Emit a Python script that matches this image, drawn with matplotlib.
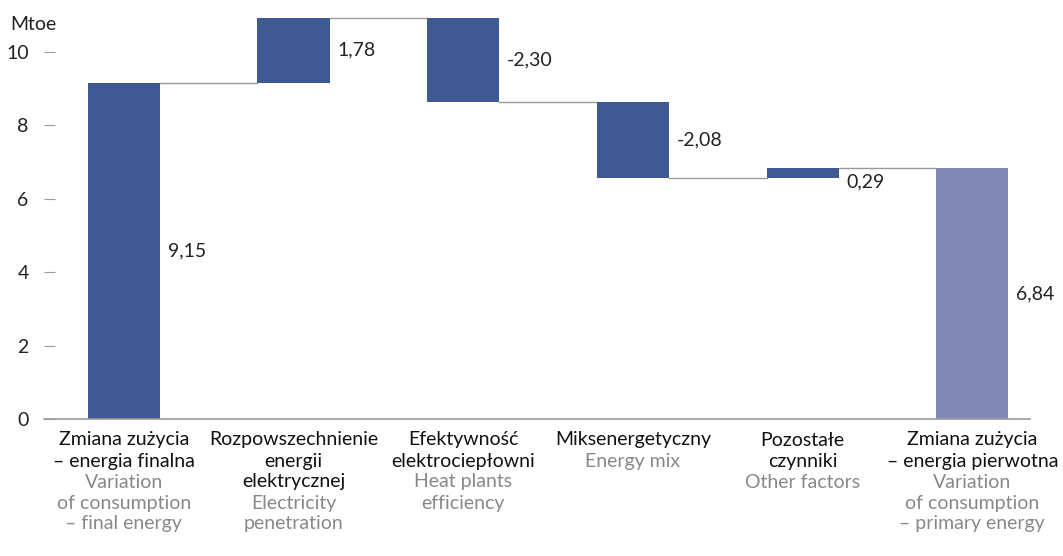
import matplotlib
matplotlib.use('Agg')
import matplotlib.pyplot as plt
import numpy as np

plt.rcParams['font.family'] = ['Lato', 'DejaVu Sans']

# data
labels_pl = [
    ['Zmiana zużycia', '– energia finalna'],
    ['Rozpowszechnienie', 'energii', 'elektrycznej'],
    ['Efektywność', 'elektrociepłowni'],
    ['Miksenergetyczny'],
    ['Pozostałe', 'czynniki'],
    ['Zmiana zużycia', '– energia pierwotna'],
]
labels_en = [
    ['Variation', 'of consumption', '– final energy'],
    ['Electricity', 'penetration'],
    ['Heat plants', 'efficiency'],
    ['Energy mix'],
    ['Other factors'],
    ['Variation', 'of consumption', '– primary energy'],
]
changes = [9.15, 1.78, -2.30, -2.08, 0.29]
total = 6.84

dark = '#3f5a93'
light = '#8389b5'
grey = '#9a9a9a'

fig = plt.figure(figsize=(10.63, 5.56), dpi=100)
ax = fig.add_axes([44 / 1063, 137 / 556, (1030 - 44) / 1063, 404 / 556])

x = np.arange(6)
w = 0.425
bottoms = []
heights = []
level = 0.0
for i, c in enumerate(changes):
    if i == 0:
        bottoms.append(0.0)
        heights.append(c)
    else:
        bottoms.append(min(level, level + c))
        heights.append(abs(c))
    level += c
bottoms.append(0.0)
heights.append(total)

colors = [dark] * 5 + [light]
ax.bar(x, heights, w, bottom=bottoms, color=colors, zorder=2)

# connectors
level = 0.0
for i, c in enumerate(changes):
    level += c
    ax.plot([x[i] + w / 2, x[i + 1] - w / 2], [level, level],
            color=grey, lw=1, zorder=1)

# value labels
values = changes + [total]
for i, v in enumerate(values):
    ymid = bottoms[i] + heights[i] / 2
    if i == 4:
        ymid = bottoms[i] - 0.1
    ax.annotate(('%.2f' % v).replace('.', ','),
                xy=(x[i] + w / 2, ymid), xytext=(8, 0),
                textcoords='offset pixels', ha='left', va='center',
                fontsize=14, color='#222222')

# category labels
for i in range(6):
    lines = [(s, '#111111') for s in labels_pl[i]] + [(s, '#888888') for s in labels_en[i]]
    for k, (s, col) in enumerate(lines):
        ax.annotate(s, xy=(x[i], 0), xycoords=('data', 'axes fraction'),
                    xytext=(0, -21 * (k + 1)), textcoords='offset pixels',
                    ha='center', va='center', fontsize=14, color=col)

ax.set_xlim(-0.47, 5.34)
ax.set_ylim(0, 11)
ax.set_yticks([0, 2, 4, 6, 8, 10])
ax.set_xticks([])
for s in ['top', 'right', 'left']:
    ax.spines[s].set_visible(False)
ax.spines['bottom'].set_color(grey)
ax.spines['bottom'].set_linewidth(1.2)
ax.tick_params(axis='y', direction='in', length=8, color=grey, pad=11,
               labelsize=14, labelcolor='#222222')
fig.text(10 / 1063, 1 - 24 / 556, 'Mtoe', fontsize=14, color='#222222',
         ha='left', va='center')

fig.savefig('out.png', dpi=100)
